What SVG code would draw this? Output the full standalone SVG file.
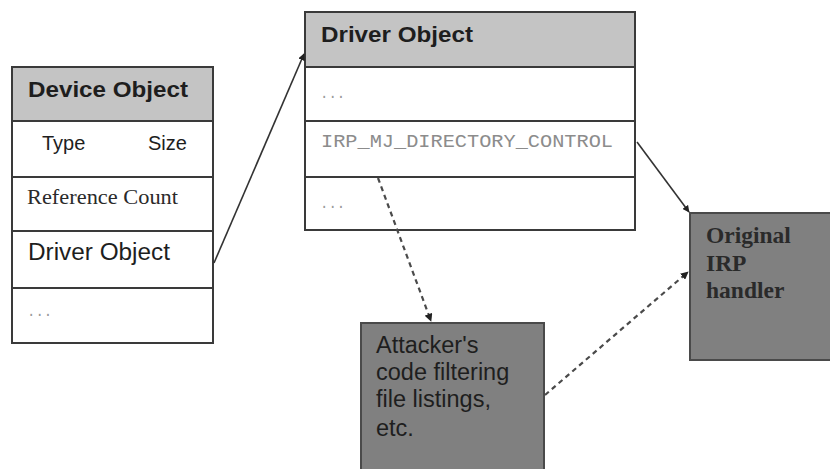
<svg xmlns="http://www.w3.org/2000/svg" width="830" height="469" viewBox="0 0 830 469">
<style>
.box{fill:#ffffff;stroke:#3a3a3a;stroke-width:2}
.hdr{fill:#c4c4c4;stroke:#3a3a3a;stroke-width:2}
.dark{fill:#808080;stroke:#4a4a4a;stroke-width:2}
.sans{font-family:"Liberation Sans",Arial,sans-serif;fill:#1e1e1e}
.bold{font-weight:bold}
.serif{font-family:"Liberation Serif","Times New Roman",serif;fill:#2a2a2a}
.mono{font-family:"Liberation Mono","Courier New",monospace;fill:#8c8c8c}
.dots{font-family:"Liberation Mono",monospace;fill:#9a9a9a;font-size:14px}
.solid{stroke:#333;stroke-width:1.6;fill:none}
.dash{stroke:#4a4a4a;stroke-width:2.2;fill:none;stroke-dasharray:5 4}
</style>
<defs>
<marker id="ah" viewBox="0 0 10 10" refX="9" refY="5" markerWidth="7" markerHeight="7" markerUnits="userSpaceOnUse" orient="auto">
<path d="M0,0 L10,5 L0,10 z" fill="#222"/>
</marker>
<marker id="ah2" viewBox="0 0 10 10" refX="9" refY="5" markerWidth="8" markerHeight="8" markerUnits="userSpaceOnUse" orient="auto">
<path d="M0,0 L10,5 L0,10 z" fill="#222"/>
</marker>
</defs>
<rect width="830" height="469" fill="#ffffff"/>
<g id="device-object">
<rect class="hdr" x="12" y="67" width="201" height="54"/>
<rect class="box" x="12" y="121" width="201" height="56"/>
<rect class="box" x="12" y="177" width="201" height="54"/>
<rect class="box" x="12" y="231" width="201" height="57"/>
<rect class="box" x="12" y="288" width="201" height="55"/>
<text class="sans bold" x="28" y="97" font-size="22" textLength="160" lengthAdjust="spacingAndGlyphs">Device Object</text>
<text class="sans" x="42" y="150" font-size="20">Type</text>
<text class="sans" x="148" y="150" font-size="20">Size</text>
<text class="serif" x="27" y="204" font-size="20" textLength="151" lengthAdjust="spacingAndGlyphs">Reference Count</text>
<text class="sans" x="28" y="260" font-size="23" textLength="142" lengthAdjust="spacingAndGlyphs">Driver Object</text>
<text class="dots" x="27" y="316">...</text>
</g>
<g id="driver-object">
<rect class="hdr" x="305" y="12" width="330" height="55"/>
<rect class="box" x="305" y="67" width="330" height="54"/>
<rect class="box" x="305" y="121" width="330" height="56"/>
<rect class="box" x="305" y="177" width="330" height="53"/>
<text class="sans bold" x="321" y="42" font-size="22" textLength="152" lengthAdjust="spacingAndGlyphs">Driver Object</text>
<text class="dots" x="320" y="98">...</text>
<text class="mono" x="321" y="147" font-size="19" textLength="292" lengthAdjust="spacingAndGlyphs">IRP_MJ_DIRECTORY_CONTROL</text>
<text class="dots" x="320" y="208">...</text>
</g>
<g id="attacker-code">
<rect class="dark" x="361" y="323" width="183" height="150"/>
<text class="sans" font-size="23.5" fill="#1e1e1e">
<tspan x="376" y="353">Attacker's</tspan>
<tspan x="376" y="380">code filtering</tspan>
<tspan x="376" y="407">file listings,</tspan>
<tspan x="376" y="436">etc.</tspan>
</text>
</g>
<g id="original-irp-handler">
<rect class="dark" x="690" y="213" width="150" height="147"/>
<text class="serif bold" font-size="23.5" fill="#1a1a1a">
<tspan x="706" y="243">Original</tspan>
<tspan x="706" y="271">IRP</tspan>
<tspan x="706" y="298">handler</tspan>
</text>
</g>
<g id="connectors">
<line class="solid" x1="214" y1="263" x2="304" y2="54" marker-end="url(#ah)"/>
<line class="solid" x1="637" y1="142" x2="689" y2="212" marker-end="url(#ah)"/>
<line class="dash" x1="378" y1="178" x2="431" y2="321" marker-end="url(#ah2)"/>
<line class="dash" x1="545" y1="395" x2="688" y2="272" marker-end="url(#ah2)"/>
</g>
</svg>
